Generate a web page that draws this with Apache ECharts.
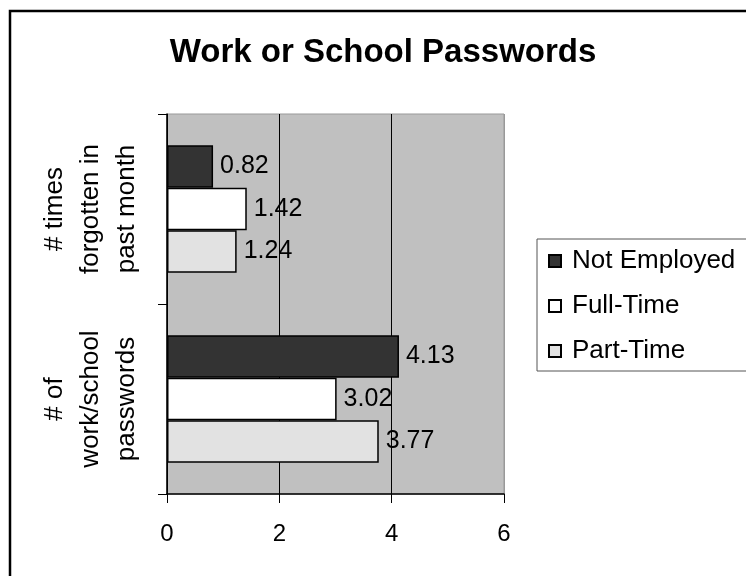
<!DOCTYPE html>
<html>
<head>
<meta charset="utf-8">
<script src="https://cdn.jsdelivr.net/npm/echarts@6/dist/echarts.min.js"></script>
<style>html,body{margin:0;padding:0;background:#fff;}#c{width:746px;height:576px;}</style>
</head>
<body>
<div id="c"></div>
<script>
const categories = ["# times\nforgotten in\npast month", "# of\nwork/school\npasswords"];
const seriesNames = ["Not Employed", "Full-Time", "Part-Time"];
const notEmployed = [0.82, 4.13];
const fullTime = [1.42, 3.02];
const partTime = [1.24, 3.77];
const xTicks = [0, 2, 4, 6];

const FONT = '"Liberation Sans", Arial, sans-serif';
const colors = ['#333333', '#FFFFFF', '#E2E2E2'];
const values = [notEmployed, fullTime, partTime];

const chart = echarts.init(document.getElementById('c'));
chart.setOption({
  animation: false,
  backgroundColor: '#fff',
  title: {
    text: 'Work or School Passwords',
    left: 378, top: 31, textAlign: 'center',
    textStyle: { fontFamily: FONT, fontSize: 33, fontWeight: 'bold', color: '#000' }
  },
  graphic: [{
    type: 'rect', shape: { x: 10, y: 11, width: 800, height: 700 },
    style: { fill: 'none', stroke: '#000', lineWidth: 2.5 }, z: 100
  }],
  legend: {
    orient: 'vertical', left: 537, top: 239,
    padding: [9, 12, 7, 11],
    itemWidth: 12, itemHeight: 12, itemGap: 19,
    borderColor: '#555', borderWidth: 1,
    icon: 'rect',
    data: seriesNames,
    textStyle: { fontFamily: FONT, fontSize: 26, lineHeight: 25, color: '#000', padding: [0, 0, 0, 6] }
  },
  grid: {
    left: 167, right: 242, top: 114, bottom: 82,
    show: true, backgroundColor: '#C0C0C0', borderColor: '#999', borderWidth: 1
  },
  xAxis: {
    type: 'value', min: xTicks[0], max: xTicks[xTicks.length - 1], interval: 2,
    axisLine: { show: true, lineStyle: { color: '#000', width: 1.5 } },
    axisTick: { show: true, length: 9, lineStyle: { color: '#000' } },
    axisLabel: { margin: 28, fontFamily: FONT, fontSize: 24, color: '#000' },
    splitLine: { show: true, lineStyle: { color: ['#000', '#000', '#000', '#999'], width: 1 } }
  },
  yAxis: {
    type: 'category', data: categories, inverse: true,
    axisLine: { show: true, lineStyle: { color: '#000', width: 1.5 } },
    axisTick: { show: true, length: 9, lineStyle: { color: '#000' } },
    axisLabel: { rotate: 90, margin: 22, fontFamily: FONT, fontSize: 26, lineHeight: 36, color: '#000', align: 'center' },
    splitLine: { show: false }
  },
  series: seriesNames.map((name, i) => ({
    name: name, type: 'bar', data: values[i],
    barGap: '0%', barCategoryGap: '33%',
    itemStyle: { color: colors[i], borderColor: '#000', borderWidth: 1.5 },
    label: { show: true, position: 'right', distance: 7, fontFamily: FONT, fontSize: 25, color: '#000' }
  }))
});
</script>
</body>
</html>
